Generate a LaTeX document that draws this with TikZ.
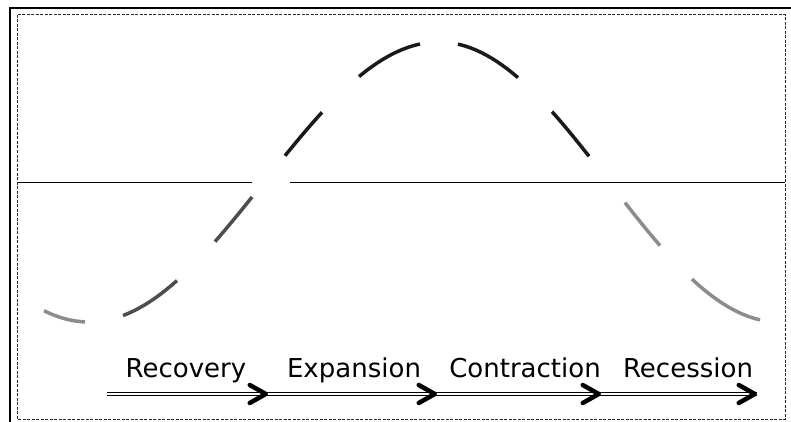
\documentclass[tikz,border=0pt]{standalone}
\usepackage{fontspec}
\setmainfont{DejaVu Sans}
\usetikzlibrary{arrows.meta}
\definecolor{curvelight}{RGB}{140, 140, 140}
\definecolor{curvedark}{RGB}{77, 77, 77}
\definecolor{curveblack}{RGB}{26, 26, 26}
\definecolor{framegray}{RGB}{40, 40, 40}

\begin{document}
\begin{tikzpicture}[
            x=1pt, y=-1pt,
            wave/.style={line width=3.5pt, draw=#1},
            phase/.style={font=\fontsize{26}{30}\selectfont, anchor=base, inner sep=0pt},
            rail/.style={double, double distance=1.5pt, line width=1.6pt},
            tipline/.style={white, line width=0.6pt,
                -{Straight Barb[color=black, length=16pt, width=18pt, line width=4.5pt 0, round]}},
            frame/.style={draw=framegray, line width=1pt, dash pattern=on 3pt off 1.5pt},
            declare function={cyc(\t) = (\t < 439) ? 182-140*sin((\t-264)/175*90) : 182-140*cos((\t-439)/170*90);}
        ]
            \useasboundingbox (0,0) rectangle (791,422);

            % Frames
            \draw[line width=2.6pt] (10,422) -- (10,8) -- (791,8);
            \draw[frame] (17,15) rectangle (785,419);

            % Axis
            \draw[line width=1pt] (18,182) -- (252,182) (290,182) -- (785,182);

            % Cycle
            \foreach \a/\b/\c in {44/85/curvelight, 123/177/curvedark, 215/252/curvedark,
                                  285/322/curveblack, 359/420/curveblack, 458/518/curveblack,
                                  552/589/curveblack, 625/660/curvelight, 692/760/curvelight}
                \draw[wave=\c] plot[domain=\a:\b, samples=25] (\x, {cyc(\x)});

            % Phases
            \node[phase] (recovery) at (186,377) {Recovery};
            \node[phase] (expansion) at (354,377) {Expansion};
            \node[phase] (contraction) at (525,377) {Contraction};
            \node[phase] (recession) at (688,377) {Recession};

            % Arrows
            \coordinate (a0) at (107,394);
            \coordinate (a1) at (268,394);
            \coordinate (a2) at (437,394);
            \coordinate (a3) at (601,394);
            \coordinate (a4) at (757,394);
            \foreach \s/\e in {a0/a1, a1/a2, a2/a3, a3/a4} {
                \draw[rail] (\s) -- (\e);
                \draw[tipline] (\s) -- (\e);
            }
        \end{tikzpicture}
\end{document}
